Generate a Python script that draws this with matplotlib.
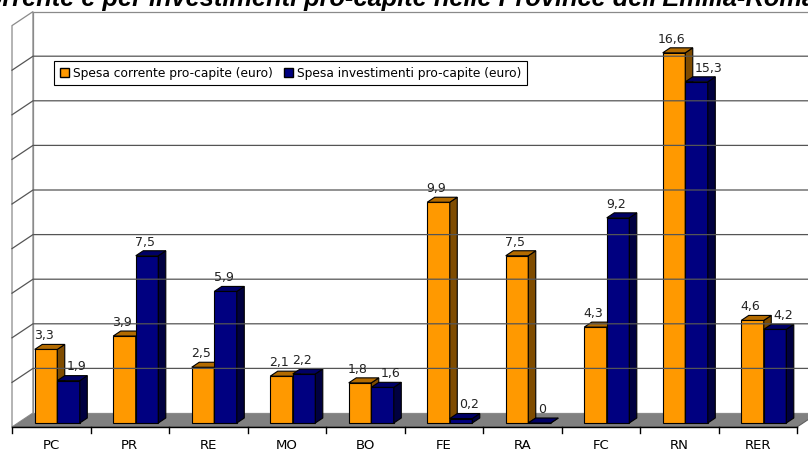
import matplotlib
matplotlib.use("Agg")
import matplotlib.pyplot as plt
from matplotlib.patches import Polygon, Patch

categories = ["PC", "PR", "RE", "MO", "BO", "FE", "RA", "FC", "RN", "RER"]
spesa_corrente = [3.3, 3.9, 2.5, 2.1, 1.8, 9.9, 7.5, 4.3, 16.6, 4.6]
spesa_investimenti = [1.9, 7.5, 5.9, 2.2, 1.6, 0.2, 0.0, 9.2, 15.3, 4.2]
series_names = ["Spesa corrente pro-capite (euro)",
                "Spesa investimenti pro-capite (euro)"]
title = "Spesa corrente e per investimenti pro-capite nelle Province dell'Emilia-Romagna"
y_max = 18
y_step = 2

# oblique "3d" look: depth offset in data units
DX, DY = 0.2675, 0.628
Z_FRONT, Z_BACK = 0.286, 0.643
BAR_W = 0.287

colors = [("#FF9900", "#7F4C00", "#B36B00"),   # front, side, top
          ("#000080", "#000040", "#000066")]


def proj(x, y, z):
    return (x + z * DX, y + z * DY)


def fmt(v):
    return f"{v:g}".replace(".", ",")


fig = plt.figure(figsize=(8.08, 4.5), dpi=100)
ax = fig.add_axes([0, 0, 1, 1])
ax.set_xlim(-0.6529, 9.640)
ax.set_ylim(-1.031, 19.148)
ax.axis("off")

n = len(categories)
x_left, x_right = -0.5, n - 0.5

# floor
floor = [proj(x_left, 0, 0), proj(x_right, 0, 0), proj(x_right, 0, 1), proj(x_left, 0, 1)]
ax.add_patch(Polygon(floor, closed=True, facecolor="#808080", edgecolor="#606060", lw=0.8))

# left wall and back wall
side_wall = [proj(x_left, 0, 0), proj(x_left, 0, 1), proj(x_left, y_max, 1), proj(x_left, y_max, 0)]
ax.add_patch(Polygon(side_wall, closed=True, facecolor="white", edgecolor="#8a8a8a", lw=0.9))
back_wall = [proj(x_left, 0, 1), proj(x_right, 0, 1), proj(x_right, y_max, 1), proj(x_left, y_max, 1)]
ax.add_patch(Polygon(back_wall, closed=True, facecolor="white", edgecolor="#8a8a8a", lw=0.9))

for v in range(y_step, y_max, y_step):
    a, b, c = proj(x_left, v, 0), proj(x_left, v, 1), proj(x_right, v, 1)
    ax.plot([a[0], b[0], c[0]], [a[1], b[1], c[1]], color="#555555", lw=0.9)

# axis line and ticks on the front edge of the floor
ax.plot([x_left, x_right], [0, 0], color="black", lw=1)
for k in range(n + 1):
    ax.plot([x_left + k, x_left + k], [0, -0.27], color="black", lw=1)

for i, cat in enumerate(categories):
    ax.text(i, -0.52, cat, ha="center", va="top", fontsize=9.5, color="black")

# bars
for i in range(n):
    for s, vals in enumerate([spesa_corrente, spesa_investimenti]):
        v = vals[i]
        front, side, top = colors[s]
        x0 = i - BAR_W if s == 0 else i
        ax.bar(x0 + Z_FRONT * DX, v, width=BAR_W, bottom=Z_FRONT * DY, align="edge",
               color=front, edgecolor="black", lw=0.8)
        side_face = [proj(x0 + BAR_W, 0, Z_FRONT), proj(x0 + BAR_W, 0, Z_BACK),
                     proj(x0 + BAR_W, v, Z_BACK), proj(x0 + BAR_W, v, Z_FRONT)]
        ax.add_patch(Polygon(side_face, closed=True, facecolor=side, edgecolor="black", lw=0.8))
        top_face = [proj(x0, v, Z_FRONT), proj(x0 + BAR_W, v, Z_FRONT),
                    proj(x0 + BAR_W, v, Z_BACK), proj(x0, v, Z_BACK)]
        ax.add_patch(Polygon(top_face, closed=True, facecolor=top, edgecolor="black", lw=0.8))

        ly = v + Z_BACK * DY + 0.1
        if s == 1 and spesa_corrente[i] > v:
            # keep the label clear of the taller orange bar beside it
            lx = i + Z_BACK * DX + 0.03
            ax.text(lx, ly, fmt(v), ha="left", va="bottom", fontsize=9, color="#222222")
        else:
            lx = x0 + BAR_W / 2 + 0.05
            ax.text(lx, ly, fmt(v), ha="center", va="bottom", fontsize=9, color="#222222")

handles = [Patch(facecolor=colors[0][0], edgecolor="black"),
           Patch(facecolor=colors[1][0], edgecolor="black")]
leg = fig.legend(handles, series_names, loc="upper left", bbox_to_anchor=(54 / 808, 1 - 61 / 450),
                 ncol=2, frameon=True, fancybox=False, edgecolor="black", framealpha=1,
                 borderaxespad=0, handlelength=0.75, handleheight=0.75, handletextpad=0.35,
                 columnspacing=0.9, borderpad=0.45, fontsize=8.8)
leg.get_frame().set_linewidth(0.8)

# title, cut off at the top like the reference; shift so "Spesa co" is outside
renderer = fig.canvas.get_renderer()
pre = fig.text(0, 0, "Spesa co", fontsize=18.3, fontweight="bold", fontstyle="italic",
               family="Liberation Sans")
w_pre = pre.get_window_extent(renderer).width
pre.remove()
fig.text((-w_pre + 2) / 808, 1 - 6 / 450, title, fontsize=18.3, fontweight="bold",
         fontstyle="italic", family="Liberation Sans", ha="left", va="baseline")

fig.savefig("out.png", dpi=100)
